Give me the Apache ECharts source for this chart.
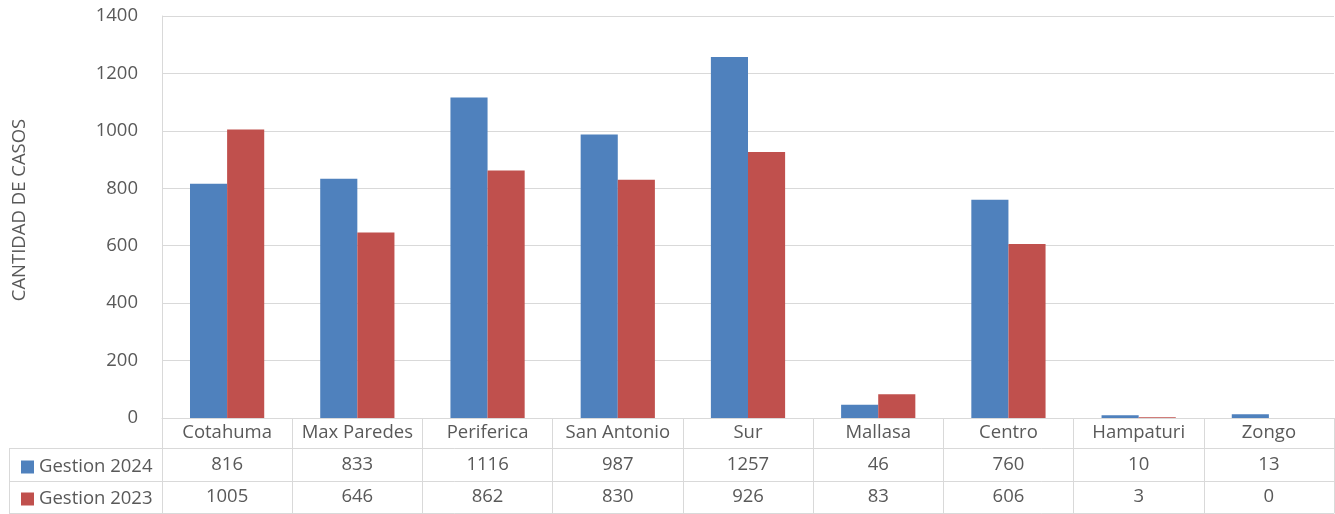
<!DOCTYPE html>
<html>
<head>
<meta charset="utf-8">
<script src="https://cdn.jsdelivr.net/npm/echarts@6/dist/echarts.min.js"></script>
<style>
  html, body { margin: 0; padding: 0; background: #ffffff; }
  #chart { width: 1335px; height: 514px; }
</style>
</head>
<body>
<div id="chart"></div>
<script>
// Cases per macrodistrict, two reporting years
const categories = ['Cotahuma', 'Max Paredes', 'Periferica', 'San Antonio', 'Sur', 'Mallasa', 'Centro', 'Hampaturi', 'Zongo'];
const gestion2024 = [816, 833, 1116, 987, 1257, 46, 760, 10, 13];
const gestion2023 = [1005, 646, 862, 830, 926, 83, 606, 3, 0];
const seriesNames = ['Gestion 2024', 'Gestion 2023'];
const yAxisTitle = 'CANTIDAD DE CASOS';

const FONT = 'Open Sans';
const TEXT = '#595959';
const LINE = '#d9d9d9';
const BLUE = '#4f81bd';
const RED = '#c0504d';

const chart = echarts.init(document.getElementById('chart'), null, { renderer: 'canvas' });

// One category axis per table row: names, then each series' values
function tableAxis(data, offset, tickLen, lineHeight, showLabels) {
  return {
    type: 'category',
    position: 'bottom',
    offset: offset,
    data: data,
    boundaryGap: true,
    axisLine: { show: true, lineStyle: { color: LINE, width: 1 } },
    axisTick: { show: tickLen > 0, length: tickLen, lineStyle: { color: LINE } },
    axisLabel: {
      show: showLabels,
      interval: 0,
      margin: 0,
      color: TEXT,
      fontFamily: FONT,
      fontSize: 18.5,
      lineHeight: lineHeight,
      verticalAlign: 'top'
    },
    splitLine: { show: false }
  };
}

// Row header of the data table: one legend entry per row
function rowLegend(name, top) {
  return {
    orient: 'horizontal',
    left: 16,
    top: top,
    itemWidth: 13,
    itemHeight: 13,
    icon: 'rect',
    data: [name],
    textStyle: { color: TEXT, fontFamily: FONT, fontSize: 18.5, lineHeight: 20 },
    selectedMode: false
  };
}

const option = {
  backgroundColor: '#ffffff',
  animation: false,
  color: [BLUE, RED],
  grid: { left: 162, right: 1, top: 16, bottom: 96, containLabel: false },
  legend: [
    rowLegend(seriesNames[0], 452),
    rowLegend(seriesNames[1], 484)
  ],
  xAxis: [
    tableAxis(categories, 0, 30, 30, true),
    tableAxis(gestion2024.map(String), 30, 33, 34, true),
    tableAxis(gestion2023.map(String), 63, 32, 32, true),
    tableAxis(categories, 95, 0, 20, false)
  ],
  yAxis: {
    type: 'value',
    min: 0,
    max: 1400,
    interval: 200,
    name: yAxisTitle,
    nameLocation: 'middle',
    nameGap: 133,
    nameRotate: 90,
    nameTextStyle: { color: TEXT, fontFamily: FONT, fontSize: 18.5, padding: [0, 0, 0, 14] },
    axisLine: { show: true, lineStyle: { color: LINE } },
    axisTick: { show: false },
    axisLabel: { color: TEXT, fontFamily: FONT, fontSize: 18.5, margin: 24, formatter: (v) => String(v) },
    splitLine: { show: true, lineStyle: { color: LINE, width: 1 } }
  },
  series: [
    {
      name: seriesNames[0],
      type: 'bar',
      xAxisIndex: 0,
      data: gestion2024,
      barGap: '0%',
      barCategoryGap: '43%',
      itemStyle: { color: BLUE }
    },
    {
      name: seriesNames[1],
      type: 'bar',
      xAxisIndex: 0,
      data: gestion2023,
      barGap: '0%',
      barCategoryGap: '43%',
      itemStyle: { color: RED }
    }
  ],
  // Borders of the row-label column on the left of the data table
  graphic: [
    { type: 'line', shape: { x1: 9, y1: 448.5, x2: 162, y2: 448.5 }, style: { stroke: LINE, lineWidth: 1 } },
    { type: 'line', shape: { x1: 9, y1: 481.5, x2: 162, y2: 481.5 }, style: { stroke: LINE, lineWidth: 1 } },
    { type: 'line', shape: { x1: 9, y1: 513.5, x2: 162, y2: 513.5 }, style: { stroke: LINE, lineWidth: 1 } },
    { type: 'line', shape: { x1: 9.5, y1: 448, x2: 9.5, y2: 514 }, style: { stroke: LINE, lineWidth: 1 } }
  ]
};

chart.setOption(option);
</script>
</body>
</html>
